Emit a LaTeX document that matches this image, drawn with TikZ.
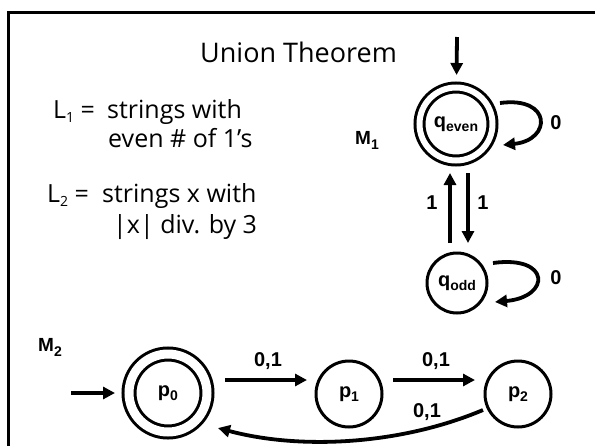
\documentclass[tikz,border=0pt]{standalone}
\usepackage{fontspec}
\setmainfont{Open Sans}
\newfontfamily\labfont{Liberation Sans}
\usetikzlibrary{arrows.meta,calc}
\newcommand\lowidx[2]{\raisebox{-#1}{\fontsize{14}{14}\selectfont #2}}
\begin{document}
\begin{tikzpicture}[x=1pt,y=-1pt,
  arr/.style={line width=3.8pt,-{Triangle[length=12pt,width=12pt]}},
  st/.style={circle,draw,line width=3pt,inner sep=0pt,outer sep=0pt,
    font=\labfont\bfseries\fontsize{20}{20}\selectfont},
  acc/.style={st,double,double distance=6pt},
  lbl/.style={font=\labfont\bfseries\fontsize{20}{20}\selectfont,inner sep=0pt},
  lblb/.style={font=\labfont\bfseries\fontsize{20}{20}\selectfont,inner sep=0pt},
  mlbl/.style={font=\labfont\bfseries\fontsize{19}{19}\selectfont,inner sep=0pt,anchor=base west},
  txt/.style={font=\fontsize{25}{25}\selectfont,anchor=base west,inner sep=0pt},
  ttl/.style={font=\fontsize{27}{27}\selectfont,anchor=base west,inner sep=0pt}]
\useasboundingbox (0,0) rectangle (595,445);
\draw[line width=3pt] (8,450) -- (8,12) -- (600,12);

% texts
\node[ttl] (title) at (200,62) {Union Theorem};
\node[txt] (l1a) at (53,118) {L\lowidx{4pt}{1} =};
\node[txt] (l1b) at (107,118) {strings with};
\node[txt] (l1c) at (108,147) {even \# of 1’s};
\node[txt] (l2a) at (47,202) {L\lowidx{4pt}{2} =};
\node[txt] (l2b) at (102,202) {strings x with};
\node[txt] (l2c) at (113,233) {|x| div. by 3};

% M1
\node[acc,minimum size=73pt] (qe) at (456,124) {q\lowidx{4pt}{even}};
\node[st,minimum size=60pt] (qo) at (457,283) {q\lowidx{4pt}{odd}};
\node[mlbl] (m1) at (355,144) {M\lowidx{5pt}{1}};
\coordinate (qin) at (457,37);
\draw[arr,shorten >=12.5pt] (qin) -- (qe);
\draw[arr] ($(qe)+(44,-21)$) .. controls ($(qe)+(96,-28)$) and ($(qe)+(96,16)$) .. ($(qe)+(47,21)$);
\node[lbl] (l0a) at (556,123) {0};
\draw[arr] ($(qo)+(-7,-40)$) -- ($(qe)+(-6,49)$);
\draw[arr] ($(qe)+(12,49)$) -- ($(qo)+(11,-40)$);
\node[lbl] (l1l) at (432,203) {1};
\node[lbl] (l1r) at (483,203) {1};
\draw[arr] ($(qo)+(36,-20)$) .. controls ($(qo)+(94,-28)$) and ($(qo)+(94,14)$) .. ($(qo)+(38,19)$);
\node[lbl] (l0b) at (556,278) {0};

% M2
\node[mlbl] (m2) at (38,351) {M\lowidx{5pt}{2}};
\node[acc,minimum size=78pt,double distance=9pt] (p0) at (168,393) {p\lowidx{4pt}{0}};
\node[st,minimum size=66pt] (p1) at (349,394) {p\lowidx{4pt}{1}};
\node[st,minimum size=66pt] (p2) at (518,394) {p\lowidx{4pt}{2}};
\coordinate (pin) at (71,393);
\draw[arr,shorten >=14pt] (pin) -- (p0);
\draw[arr] ($(p0)+(57,-13)$) -- ($(p1)+(-42,-14)$);
\node[lblb] (e01) at (268,361) {0,1};
\draw[arr] ($(p1)+(44,-14)$) -- ($(p2)+(-43,-14)$);
\node[lblb] (e12) at (436,361) {0,1};
\draw[arr] ($(p2)+(-35,16)$) .. controls (400,445) and (300,450) .. ($(p0)+(50,35)$);
\node[lblb] (e20) at (427,412) {0,1};
\end{tikzpicture}
\end{document}
